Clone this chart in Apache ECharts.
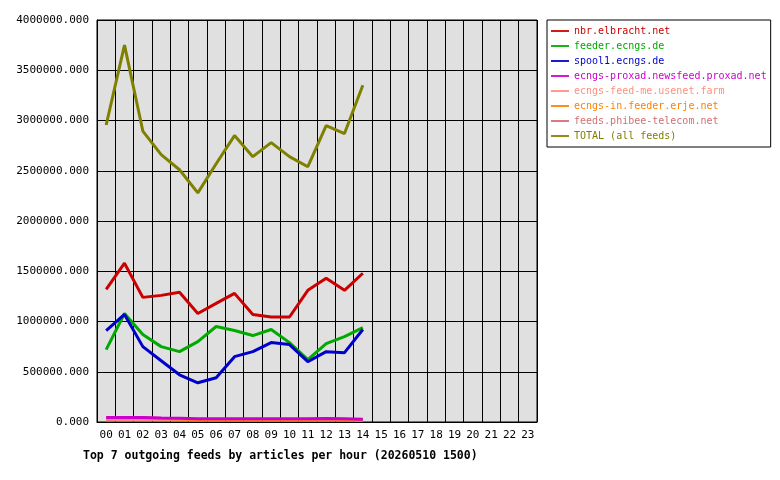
<!DOCTYPE html><html><head><meta charset="utf-8"><script src="https://cdn.jsdelivr.net/npm/echarts@6/dist/echarts.min.js"></script></head><body style="margin:0"><div id="c" style="width:780px;height:480px"></div><script>
const hours=['00','01','02','03','04','05','06','07','08','09','10','11','12','13','14','15','16','17','18','19','20','21','22','23'];
const names=['nbr.elbracht.net','feeder.ecngs.de','spool1.ecngs.de','ecngs-proxad.newsfeed.proxad.net','ecngs-feed-me.usenet.farm','ecngs-in.feeder.erje.net','feeds.phibee-telecom.net','TOTAL (all feeds)'];
const colors=['#cc0000','#00aa00','#0000cc','#cc00cc','#ff9080','#ff8000','#d07070','#808000'];
const nbr=[1320000,1580000,1240000,1260000,1290000,1080000,1180000,1280000,1070000,1045000,1045000,1310000,1430000,1310000,1480000];
const feeder=[720000,1080000,870000,750000,700000,800000,950000,910000,860000,920000,790000,620000,780000,850000,940000];
const spool1=[910000,1070000,750000,610000,470000,390000,440000,650000,700000,790000,770000,600000,700000,690000,920000];
const proxad=[45000,45000,45000,40000,38000,32000,32000,32000,32000,32000,32000,32000,35000,32000,28000];
const feedme=[30000,28000,30000,28000,26000,24000,24000,24000,24000,24000,24000,24000,24000,24000,22000];
const erje=[40000,40000,42000,35000,30000,25000,25000,25000,25000,25000,25000,25000,30000,25000,20000];
const phibee=[20000,20000,20000,20000,20000,18000,18000,18000,18000,18000,18000,18000,18000,18000,16000];
const total=[2955000,3750000,2895000,2660000,2510000,2280000,2570000,2850000,2640000,2780000,2640000,2540000,2950000,2870000,3350000];
const data=[nbr,feeder,spool1,proxad,feedme,erje,phibee,total];
const z=[5,5,5,4,2,3,1,5];
const F='DejaVu Sans Mono';
const ch=echarts.init(document.getElementById('c'));
ch.setOption({animation:false,backgroundColor:'#fff',textStyle:{fontFamily:F},
title:{text:'Top 7 outgoing feeds by articles per hour (20260510 1500)',left:78,top:445,textStyle:{fontFamily:F,fontSize:11.5,fontWeight:'bold',color:'#000'}},
legend:{orient:'vertical',left:547,top:20,itemGap:5,itemWidth:18,itemHeight:8,padding:[6,4,6,4],borderColor:'#000',borderWidth:1,
 textStyle:{fontFamily:F,fontSize:10,color:'inherit'},data:names.map(n=>({name:n,icon:'path://M0,4L10,4L10,5L0,5Z'}))},
grid:{left:97,right:243,top:20,bottom:58,show:true,backgroundColor:'#e0e0e0',borderColor:'#000',borderWidth:1},
xAxis:{type:'category',data:hours,boundaryGap:true,axisLine:{lineStyle:{color:'#000'}},axisTick:{show:false},
 axisLabel:{fontFamily:F,fontSize:11,color:'#000',interval:0},splitLine:{show:true,interval:0,lineStyle:{color:'#000'}}},
yAxis:{type:'value',min:0,max:4000000,interval:500000,axisLine:{show:true,lineStyle:{color:'#000'}},
 axisLabel:{fontFamily:F,fontSize:11,color:'#000',formatter:v=>v.toFixed(3)},splitLine:{lineStyle:{color:'#000'}}},
series:names.map((n,i)=>({name:n,type:'line',z:z[i],data:data[i],color:colors[i],symbol:'none',lineStyle:{width:3,color:colors[i]}}))});
</script></body></html>
